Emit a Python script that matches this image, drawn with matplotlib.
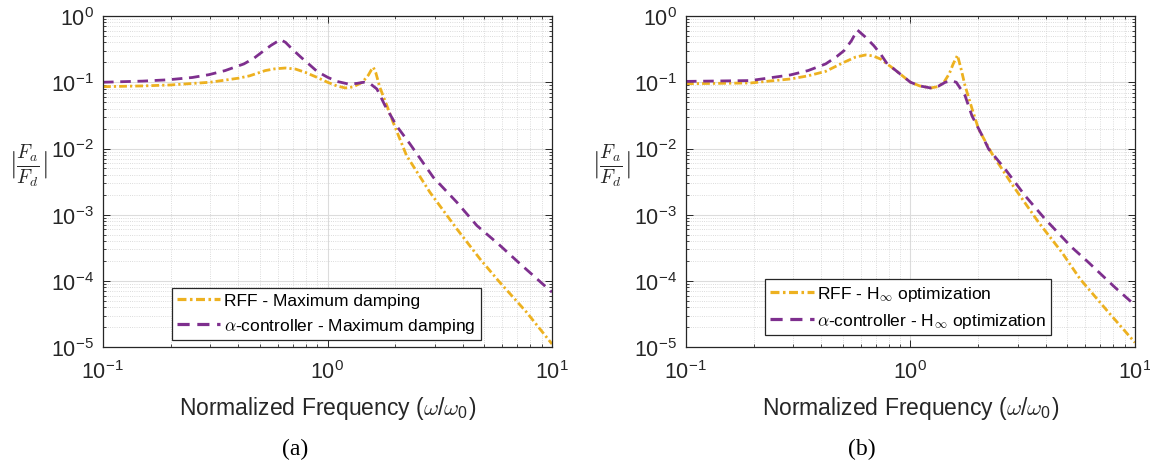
import matplotlib
matplotlib.use("Agg")
import matplotlib.pyplot as plt
import numpy as np

plt.rcParams['font.family'] = ['Liberation Sans', 'DejaVu Sans']
plt.rcParams['mathtext.fontset'] = 'cm'

yellow = '#EDB120'
purple = '#7E2F8E'

# (a) maximum damping
f_rff_a = [0.1, 0.15, 0.2, 0.3, 0.4, 0.45, 0.528, 0.58, 0.649, 0.72, 0.796, 0.89, 1.0, 1.1,
           1.2, 1.3, 1.43, 1.52, 1.57, 1.6, 1.64, 1.71, 1.84, 1.96, 2.25, 2.86, 3.77, 4.78,
           5.77, 7.71, 10.0]
m_rff_a = [0.0857, 0.088, 0.091, 0.1, 0.115, 0.125, 0.150, 0.159, 0.164, 0.158, 0.141, 0.12,
           0.1, 0.088, 0.082, 0.085, 0.1, 0.128, 0.155, 0.168, 0.14, 0.084, 0.044, 0.0248,
           0.0078, 0.00218, 6.1e-4, 2.15e-4, 1.01e-4, 3.37e-5, 1.12e-5]

f_alpha_a = [0.1, 0.15, 0.196, 0.25, 0.296, 0.35, 0.424, 0.47, 0.502, 0.56, 0.617, 0.65,
             0.695, 0.76, 0.824, 0.9, 1.0, 1.1, 1.24, 1.35, 1.45, 1.55, 1.66, 1.8, 2.03,
             2.33, 2.96, 3.77, 4.63, 5.77, 7.08, 9.46, 10.0]
m_alpha_a = [0.1, 0.104, 0.109, 0.118, 0.130, 0.150, 0.189, 0.23, 0.273, 0.36, 0.44, 0.40,
             0.318, 0.24, 0.189, 0.145, 0.119, 0.103, 0.094, 0.096, 0.1, 0.095, 0.079, 0.045,
             0.022, 0.0117, 0.00367, 0.00154, 6.85e-4, 3.62e-4, 1.92e-4, 8.0e-5, 6.8e-5]

# (b) H-infinity optimization
f_rff_b = [0.1, 0.194, 0.292, 0.35, 0.419, 0.506, 0.57, 0.631, 0.68, 0.736, 0.845, 1.0, 1.1,
           1.23, 1.33, 1.41, 1.49, 1.55, 1.62, 1.68, 1.75, 1.88, 2.01, 2.31, 2.83, 3.72,
           4.73, 5.7, 7.5, 10.0]
m_rff_b = [0.095, 0.0975, 0.112, 0.125, 0.146, 0.2, 0.24, 0.258, 0.25, 0.224, 0.158, 0.1,
           0.088, 0.082, 0.086, 0.1, 0.135, 0.189, 0.255, 0.16, 0.089, 0.04, 0.0197, 0.0083,
           0.0029, 7.7e-4, 2.7e-4, 1.07e-4, 3.6e-5, 1.18e-5]

f_alpha_b = [0.1, 0.194, 0.292, 0.35, 0.419, 0.47, 0.506, 0.545, 0.58, 0.63, 0.687, 0.74,
             0.788, 0.845, 1.0, 1.1, 1.23, 1.33, 1.43, 1.52, 1.6, 1.75, 1.88, 2.08, 2.23,
             2.64, 3.24, 3.98, 5.23, 6.2, 8.15, 9.66, 10.0]
m_alpha_b = [0.103, 0.106, 0.129, 0.15, 0.189, 0.245, 0.30, 0.42, 0.615, 0.48, 0.356, 0.26,
             0.189, 0.158, 0.1, 0.088, 0.082, 0.087, 0.1, 0.105, 0.1, 0.063, 0.031, 0.016,
             0.0098, 0.0049, 0.00194, 8.6e-4, 3.23e-4, 1.92e-4, 8.0e-5, 4.8e-5, 4.4e-5]

xticks = [0.1, 1, 10]
xtick_labels = ['10$^{\\mathregular{-1}}$', '10$^{\\mathregular{0}}$', '10$^{\\mathregular{1}}$']
yticks = [1e-5, 1e-4, 1e-3, 1e-2, 1e-1, 1]
ytick_labels = ['10$^{\\mathregular{-%d}}$' % k for k in (5, 4, 3, 2, 1)] + ['10$^{\\mathregular{0}}$']

labels_a = ['RFF - Maximum damping', r'$\alpha$-controller - Maximum damping']
labels_b = [r'RFF - H$_{\infty}$ optimization', r'$\alpha$-controller - H$_{\infty}$ optimization']

fig = plt.figure(figsize=(11.5, 4.64), dpi=100)
ax1 = fig.add_axes([0.0896, 0.2494, 0.3904, 0.714])
ax2 = fig.add_axes([0.5965, 0.2494, 0.3904, 0.714])


def setup(ax):
    ax.set_xscale('log')
    ax.set_yscale('log')
    ax.set_xlim(0.1, 10)
    ax.set_ylim(1e-5, 1)
    ax.set_xticks(xticks)
    ax.set_xticklabels(xtick_labels)
    ax.set_yticks(yticks)
    ax.set_yticklabels(ytick_labels)
    ax.tick_params(which='both', direction='in', top=True, right=True, colors='#262626',
                   labelsize=15.5, labelcolor='#262626')
    ax.tick_params(which='major', length=5, width=0.7)
    ax.tick_params(which='minor', length=2.5, width=0.6)
    ax.tick_params(axis='x', which='major', pad=9)
    ax.tick_params(axis='y', which='major', pad=6)
    ax.grid(True, which='major', color='#dcdcdc', lw=0.8, ls='-')
    ax.grid(True, which='minor', color='#d0d0d0', lw=0.6, ls=':')
    ax.set_axisbelow(True)
    for s in ax.spines.values():
        s.set_color('#262626')
        s.set_linewidth(0.9)
    ax.set_xlabel(r'Normalized Frequency ($\omega$/$\omega_{\mathregular{0}}$)', fontsize=16.5,
                  color='#262626', labelpad=8)


for ax, (fr, mr, fa, ma, labs) in zip(
        [ax1, ax2],
        [(f_rff_a, m_rff_a, f_alpha_a, m_alpha_a, labels_a),
         (f_rff_b, m_rff_b, f_alpha_b, m_alpha_b, labels_b)]):
    setup(ax)
    ax.plot(fr, mr, color=yellow, lw=2.0, dashes=(2.8, 1.1, 0.8, 1.1), label=labs[0])
    ax.plot(fa, ma, color=purple, lw=2.0, dashes=(3.8, 2.4), label=labs[1])

leg1 = ax1.legend(loc='lower right', bbox_to_anchor=(0.841, 0.022), borderaxespad=0,
                  fontsize=12.5, handlelength=2.5, fancybox=False, edgecolor='#262626',
                  framealpha=1, borderpad=0.3, labelspacing=0.45, handletextpad=0.2)
leg2 = ax2.legend(loc='lower right', bbox_to_anchor=(0.814, 0.037), borderaxespad=0,
                  fontsize=12.5, handlelength=2.5, fancybox=False, edgecolor='#262626',
                  framealpha=1, borderpad=0.3, labelspacing=0.45, handletextpad=0.2)
for leg in (leg1, leg2):
    leg.get_frame().set_linewidth(0.9)
    for h in leg.get_lines():
        h.set_linewidth(2.3)

for x in (28 / 1150, 611 / 1150):
    fig.text(x, 1 - 166 / 464, r'$|\frac{F_a}{F_d}|$', fontsize=20, ha='center', va='center',
             color='#262626')

fig.text(295 / 1150, 1 - 449 / 464, '(a)', fontsize=17, family='Liberation Serif',
         ha='center', va='center')
fig.text(862 / 1150, 1 - 449 / 464, '(b)', fontsize=17, family='Liberation Serif',
         ha='center', va='center')

fig.savefig('out.png', dpi=100)
